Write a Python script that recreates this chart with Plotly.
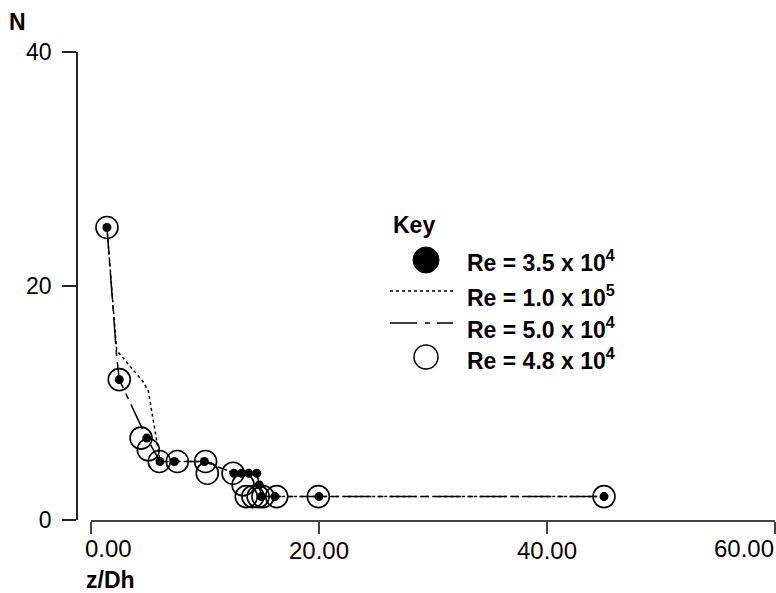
import plotly.graph_objects as go

# ---- data ----
re35_x = [1.40, 2.48, 4.89, 6.05, 7.31, 9.94, 12.54, 13.20, 13.84, 14.54, 14.76, 14.95, 16.14, 20.00, 45.00]
re35_y = [25, 12, 7, 5, 5, 5, 4, 4, 4, 4, 3, 2, 2, 2, 2]

re48_x = [1.40, 2.48, 4.39, 5.03, 5.99, 7.57, 10.05, 10.20, 12.46, 13.34, 13.62, 14.20, 14.66, 15.08, 16.29, 19.94, 45.00]
re48_y = [25, 12, 7, 6, 5, 5, 5, 4, 4, 3, 2, 2, 2, 2, 2, 2, 2]

re100_x = [1.40, 2.25, 4.59, 5.03, 5.76, 6.05, 7.31, 9.94, 12.54, 14.54, 14.95, 20.00, 45.00]
re100_y = [25, 14.5, 11.8, 11.0, 6.8, 5, 5, 5, 4, 4, 2, 2, 2]

re50_x = [1.40, 2.25, 2.48, 4.89, 6.05, 7.31, 9.94, 12.54, 14.54, 14.76, 14.95, 16.14, 20.00, 45.00]
re50_y = [25, 14, 12, 7, 5, 5, 5, 4, 4, 3, 2, 2, 2, 2]

x_tick_vals = [0, 20, 40, 60]
x_tick_text = ["0.00", "20.00", "40.00", "60.00"]
y_tick_vals = [0, 20, 40]
y_tick_text = ["0", "20", "40"]

legend_labels = ["Re = 3.5 x 10<sup>4</sup>", "Re = 1.0 x 10<sup>5</sup>",
                 "Re = 5.0 x 10<sup>4</sup>", "Re = 4.8 x 10<sup>4</sup>"]

# ---- layout helpers ----
W, H = 776, 593
ML, MR, MT, MB = 0, 1, 52, 73
PW, PH = W - ML - MR, H - MT - MB


def px(x):
    return (x - ML) / PW


def py(y):
    return 1 - (y - MT) / PH


FONT = "Liberation Sans, Arial, sans-serif"
DASHDOT = "27px,6px,6px,6px"

fig = go.Figure()
fig.add_trace(go.Scatter(x=re50_x, y=re50_y, mode="lines",
                         line=dict(color="black", width=1.5, dash=DASHDOT),
                         name="Re = 5.0 x 10^4", showlegend=False))
fig.add_trace(go.Scatter(x=re100_x, y=re100_y, mode="lines",
                         line=dict(color="black", width=1.5, dash="dot"),
                         name="Re = 1.0 x 10^5", showlegend=False))
fig.add_trace(go.Scatter(x=re48_x, y=re48_y, mode="markers",
                         marker=dict(symbol="circle-open", size=22, color="black",
                                     line=dict(width=1.6)),
                         name="Re = 4.8 x 10^4", showlegend=False))
fig.add_trace(go.Scatter(x=re35_x, y=re35_y, mode="markers",
                         marker=dict(symbol="circle", size=9, color="black"),
                         name="Re = 3.5 x 10^4", showlegend=False))

shapes = []
annotations = []

# legend (manual "Key")
annotations.append(dict(text="<b>Key</b>", x=px(391), y=py(225), xref="paper", yref="paper",
                        xanchor="left", yanchor="middle", showarrow=False,
                        font=dict(family=FONT, size=23, color="black")))
shapes.append(dict(type="circle", xref="paper", yref="paper",
                   x0=px(413), x1=px(439), y0=py(273), y1=py(247),
                   fillcolor="black", line=dict(color="black", width=1)))
shapes.append(dict(type="line", xref="paper", yref="paper",
                   x0=px(390), x1=px(453), y0=py(291), y1=py(291),
                   line=dict(color="black", width=1.5, dash="dot")))
shapes.append(dict(type="line", xref="paper", yref="paper",
                   x0=px(390), x1=px(453), y0=py(323), y1=py(323),
                   line=dict(color="black", width=1.5, dash="27px,8px,5px,7px")))
shapes.append(dict(type="circle", xref="paper", yref="paper",
                   x0=px(414), x1=px(438), y0=py(369), y1=py(345),
                   fillcolor="rgba(0,0,0,0)", line=dict(color="black", width=1.5)))
for lab, yy in zip(legend_labels, [261, 296, 328, 359]):
    annotations.append(dict(text="<b>" + lab + "</b>", x=px(465), y=py(yy),
                            xref="paper", yref="paper", xanchor="left", yanchor="middle",
                            showarrow=False, font=dict(family=FONT, size=23, color="black")))

# axis titles
annotations.append(dict(text="<b>N</b>", x=px(17), y=py(22), xref="paper", yref="paper",
                        xanchor="center", yanchor="middle", showarrow=False,
                        font=dict(family=FONT, size=23, color="black")))
annotations.append(dict(text="<b>z/Dh</b>", x=px(110), y=py(580), xref="paper", yref="paper",
                        xanchor="center", yanchor="middle", showarrow=False,
                        font=dict(family=FONT, size=23, color="black")))
# end x tick labels (shifted inside, as in the reference)
annotations.append(dict(text=x_tick_text[0], x=px(83), y=py(548), xref="paper", yref="paper",
                        xanchor="left", yanchor="middle", showarrow=False,
                        font=dict(family=FONT, size=24, color="black")))
annotations.append(dict(text=x_tick_text[-1], x=px(776), y=py(548), xref="paper", yref="paper",
                        xanchor="right", yanchor="middle", showarrow=False,
                        font=dict(family=FONT, size=24, color="black")))

fig.update_layout(
    width=W, height=H,
    margin=dict(l=ML, r=MR, t=MT, b=MB, pad=0),
    paper_bgcolor="white", plot_bgcolor="white",
    showlegend=False,
    shapes=shapes, annotations=annotations,
    xaxis=dict(domain=[91 / PW, 1], range=[0, 60], tickvals=x_tick_vals,
               ticktext=["", x_tick_text[1], x_tick_text[2], ""],
               ticks="outside", ticklen=12, tickwidth=1.5, tickcolor="#444",
               showline=True, linecolor="#444", linewidth=1.5,
               showgrid=False, zeroline=False, anchor="y", ticklabelstandoff=-4,
               tickfont=dict(family=FONT, size=24, color="black")),
    yaxis=dict(range=[0, 40], tickvals=y_tick_vals, ticktext=y_tick_text,
               anchor="free", position=77 / PW,
               ticks="outside", ticklen=14, tickwidth=1.5, tickcolor="#222",
               showline=True, linecolor="#222", linewidth=1.5,
               showgrid=False, zeroline=False, ticklabelstandoff=6,
               tickfont=dict(family=FONT, size=23, color="black")),
)

fig.write_html("out.html")
